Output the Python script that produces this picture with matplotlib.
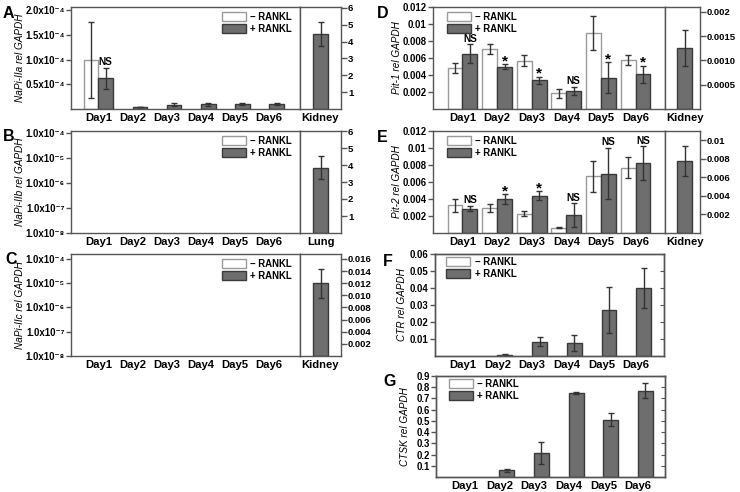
#!/usr/bin/env python3
"""
plot.py — Phosphate transporter / osteoclast marker qPCR panels (A–G).

Bars are relative expression vs GAPDH over a 6-day RANKL time course,
with a positive-control tissue (kidney / lung) on a separate right axis.
"""
import numpy as np
import matplotlib
matplotlib.use("Agg")
import matplotlib.pyplot as plt
from matplotlib.patches import Patch

plt.rcParams.update({
    "font.family": ["Liberation Sans", "DejaVu Sans"],
    "font.weight": "bold",
    "font.size": 6.9,
    "axes.linewidth": 1.0,
    "axes.edgecolor": "#555555",
})

W, H = 740, 492
GREY = "#6e6e6e"
EDGE = "#3a3a3a"
WEDGE = "#9a9a9a"
ERR = "#333333"
nan = np.nan

days = ["Day1", "Day2", "Day3", "Day4", "Day5", "Day6"]

# ── A: NaPi-IIa ──
a_minus = [1.0e-4, nan, nan, nan, nan, nan]
a_minus_err = [0.77e-4, nan, nan, nan, nan, nan]
a_plus = [0.62e-4, 0.04e-4, 0.09e-4, 0.10e-4, 0.10e-4, 0.10e-4]
a_plus_err = [0.21e-4, 0.005e-4, 0.03e-4, 0.03e-4, 0.025e-4, 0.025e-4]
a_sig = ["NS", "", "", "", "", ""]
a_kidney, a_kidney_err = 4.45, 0.7

# ── B: NaPi-IIb (nothing detected in cells) ──
b_lung, b_lung_err = 3.85, 0.7

# ── C: NaPi-IIc (nothing detected in cells) ──
c_kidney, c_kidney_err = 0.012, 0.0024

# ── D: Pit-1 ──
d_minus = [0.0048, 0.0071, 0.0057, 0.00185, 0.0089, 0.0058]
d_minus_err = [0.0006, 0.0006, 0.0006, 0.0005, 0.002, 0.0006]
d_plus = [0.0065, 0.0050, 0.0034, 0.0021, 0.0037, 0.0041]
d_plus_err = [0.0011, 0.0003, 0.0004, 0.0005, 0.0018, 0.001]
d_sig = ["NS", "*", "*", "NS", "*", "*"]
d_kidney, d_kidney_err = 0.00125, 0.00037

# ── E: Pit-2 ──
e_minus = [0.00325, 0.00294, 0.00227, 0.00063, 0.00667, 0.0077]
e_minus_err = [0.0008, 0.0005, 0.0003, 0.0001, 0.0018, 0.0012]
e_plus = [0.00286, 0.0040, 0.0044, 0.0021, 0.0070, 0.0082]
e_plus_err = [0.0003, 0.0006, 0.0005, 0.0014, 0.003, 0.002]
e_sig = ["NS", "*", "*", "NS", "NS", "NS"]
e_kidney, e_kidney_err = 0.0078, 0.0016

# ── F: CTR ──
f_plus = [nan, 0.0007, 0.0085, 0.0076, 0.027, 0.040]
f_plus_err = [nan, 0.0003, 0.0026, 0.0048, 0.0133, 0.0118]

# ── G: CTSK ──
g_plus = [nan, 0.059, 0.214, 0.748, 0.51, 0.77]
g_plus_err = [nan, 0.012, 0.1, 0.005, 0.058, 0.065]

BAR_W = 0.43
ERR_KW = dict(ecolor=ERR, elinewidth=1, capsize=2.5, capthick=1)
DAY_FS = 8.1
SUP = str.maketrans("-0123456789", "\u207b\u2070\u00b9\u00b2\u00b3\u2074\u2075\u2076\u2077\u2078\u2079")


def box(x0, y0, x1, y1):
    """Pixel box (top-left origin) -> figure fraction rect."""
    return [x0 / W, 1 - y1 / H, (x1 - x0) / W, (y1 - y0) / H]


def add_bars(ax, vals, errs, offset, white):
    x = np.arange(len(days)) + offset
    v = np.array(vals, float)
    e = np.array(errs, float)
    ok = ~np.isnan(v)
    if white:
        ax.bar(x[ok], v[ok], BAR_W, yerr=e[ok], color="white", edgecolor=WEDGE,
               linewidth=1, error_kw=ERR_KW, zorder=2)
    else:
        ax.bar(x[ok], v[ok], BAR_W, yerr=e[ok], color=GREY, edgecolor=EDGE,
               linewidth=1, error_kw=ERR_KW, zorder=2)


def add_sig(ax, plus, plus_err, marks):
    for i, m in enumerate(marks):
        if not m:
            continue
        top = plus[i] + plus_err[i]
        if m == "*":
            ax.annotate(m, (i + BAR_W / 2, top), xytext=(0, -3), textcoords="offset points",
                        ha="center", va="bottom", fontsize=11)
        else:
            ax.annotate(m, (i + BAR_W / 2, top), xytext=(0, 0.5), textcoords="offset points",
                        ha="center", va="bottom", fontsize=7.2)


def main_axes(fig, rect, xlim, ylabel, label_dx):
    ax = fig.add_axes(rect)
    ax.set_xlim(*xlim)
    ax.set_xticks(range(len(days)))
    ax.set_xticklabels(days, fontsize=DAY_FS)
    ax.tick_params(axis="x", length=0, pad=3)
    ax.tick_params(axis="y", direction="out", length=3.5, width=1, color="#555555", pad=1)
    ax.set_ylabel(ylabel, style="italic", fontsize=7.2)
    ax.yaxis.set_label_coords(-label_dx / (rect[2] * W), 0.5)
    return ax


def ref_axes(fig, rect, val, err, name, ylim, ticks, labels, xlim):
    axk = fig.add_axes(rect)
    axk.bar(0, val, BAR_W, yerr=err, color=GREY, edgecolor=EDGE, linewidth=1,
            error_kw=ERR_KW, zorder=2)
    axk.set_xlim(*xlim)
    axk.set_ylim(*ylim)
    axk.set_xticks([0])
    axk.set_xticklabels([name], fontsize=DAY_FS)
    axk.tick_params(axis="x", length=0, pad=3)
    axk.yaxis.tick_right()
    axk.set_yticks(ticks)
    axk.set_yticklabels(labels, fontsize=6.8)
    axk.tick_params(axis="y", direction="out", length=4, width=1, color="#555555", pad=1)
    return axk


def legend(ax, loc, anchor):
    handles = [Patch(facecolor="white", edgecolor=WEDGE, linewidth=1),
               Patch(facecolor=GREY, edgecolor=EDGE, linewidth=1)]
    ax.legend(handles, ["\u2212 RANKL", "+ RANKL"], loc=loc, bbox_to_anchor=anchor,
              frameon=False, fontsize=6.9, handlelength=2.5, handleheight=1.05,
              labelspacing=0.2, handletextpad=0.45, borderpad=0, borderaxespad=0)


def sci_labels(vals, exp):
    return [f"{v:.1f}x10{str(exp).translate(SUP)}" for v in vals]


def main():
    fig = plt.figure(figsize=(W / 100, H / 100), dpi=100)

    xl_left = (-0.8, 5.9)
    xl_right = (-0.85, 5.85)
    kid_a = (-0.575, 0.575)
    kid_d = (-0.57, 0.45)

    # ── A ──
    ax = main_axes(fig, box(71, 7, 300, 109), xl_left, "NaPi-IIa rel GAPDH", 46)
    add_bars(ax, a_minus, a_minus_err, -BAR_W / 2, True)
    add_bars(ax, a_plus, a_plus_err, BAR_W / 2, False)
    add_sig(ax, a_plus, a_plus_err, a_sig)
    ax.set_ylim(0, 2.07e-4)
    ax.set_yticks([0.5e-4, 1.0e-4, 1.5e-4, 2.0e-4])
    ax.set_yticklabels(sci_labels([0.5, 1.0, 1.5, 2.0], -4))
    legend(ax, "upper right", (0.965, 0.95))
    ref_axes(fig, box(300, 7, 341, 109), a_kidney, a_kidney_err, "Kidney",
             (0, 6.05), [1, 2, 3, 4, 5, 6], ["1", "2", "3", "4", "5", "6"], kid_a)

    log_ticks = [1e-8, 1e-7, 1e-6, 1e-5, 1e-4]
    log_labels = [sci_labels([1.0], e)[0] for e in (-8, -7, -6, -5, -4)]

    # ── B ──
    ax = main_axes(fig, box(71, 131, 300, 233), xl_left, "NaPi-IIb rel GAPDH", 46)
    ax.set_yscale("log")
    ax.set_ylim(1e-8, 1.2e-4)
    ax.set_yticks(log_ticks)
    ax.set_yticklabels(log_labels)
    ax.minorticks_off()
    legend(ax, "upper right", (0.965, 0.95))
    ref_axes(fig, box(300, 131, 341, 233), b_lung, b_lung_err, "Lung",
             (0, 6.0), [1, 2, 3, 4, 5, 6], ["1", "2", "3", "4", "5", "6"], kid_a)

    # ── C ──
    ax = main_axes(fig, box(71, 254, 300, 356), xl_left, "NaPi-IIc rel GAPDH", 46)
    ax.set_yscale("log")
    ax.set_ylim(1e-8, 1.6e-4)
    ax.set_yticks(log_ticks)
    ax.set_yticklabels(log_labels)
    ax.minorticks_off()
    legend(ax, "upper right", (0.965, 0.95))
    c_ticks = [0.002, 0.004, 0.006, 0.008, 0.010, 0.012, 0.014, 0.016]
    ref_axes(fig, box(300, 254, 341, 356), c_kidney, c_kidney_err, "Kidney",
             (0, 0.0168), c_ticks, [f"{t:.3f}" for t in c_ticks], kid_a)

    de_ticks = [0.002, 0.004, 0.006, 0.008, 0.010, 0.012]
    de_labels = ["0.002", "0.004", "0.006", "0.008", "0.01", "0.012"]

    # ── D ──
    ax = main_axes(fig, box(433, 7, 665, 109), xl_right, "Pit-1 rel GAPDH", 31)
    add_bars(ax, d_minus, d_minus_err, -BAR_W / 2, True)
    add_bars(ax, d_plus, d_plus_err, BAR_W / 2, False)
    add_sig(ax, d_plus, d_plus_err, d_sig)
    ax.set_ylim(0, 0.012)
    ax.set_yticks(de_ticks)
    ax.set_yticklabels(de_labels)
    legend(ax, "upper left", (0.06, 0.95))
    ref_axes(fig, box(665, 7, 700, 109), d_kidney, d_kidney_err, "Kidney",
             (0, 0.0021), [0.0005, 0.0010, 0.0015, 0.002],
             ["0.0005", "0.0010", "0.0015", "0.002"], kid_d)

    # ── E ──
    ax = main_axes(fig, box(433, 131, 665, 233), xl_right, "Pit-2 rel GAPDH", 31)
    add_bars(ax, e_minus, e_minus_err, -BAR_W / 2, True)
    add_bars(ax, e_plus, e_plus_err, BAR_W / 2, False)
    add_sig(ax, e_plus, e_plus_err, e_sig)
    ax.set_ylim(0, 0.012)
    ax.set_yticks(de_ticks)
    ax.set_yticklabels(de_labels)
    legend(ax, "upper left", (0.06, 0.95))
    ref_axes(fig, box(665, 131, 700, 233), e_kidney, e_kidney_err, "Kidney",
             (0, 0.011), [0.002, 0.004, 0.006, 0.008, 0.01],
             ["0.002", "0.004", "0.006", "0.008", "0.01"], kid_d)

    # ── F ──
    ax = main_axes(fig, box(435, 254, 664, 356), (-0.8, 5.8), "CTR rel GAPDH", 28)
    add_bars(ax, f_plus, f_plus_err, BAR_W / 2, False)
    ax.set_ylim(0, 0.06)
    ax.set_yticks([0.01, 0.02, 0.03, 0.04, 0.05, 0.06])
    ax.set_yticklabels(["0.01", "0.02", "0.03", "0.04", "0.05", "0.06"])
    legend(ax, "upper left", (0.05, 0.97))
    tw = ax.twinx()
    tw.set_ylim(ax.get_ylim())
    tw.set_yticks(ax.get_yticks())
    tw.tick_params(axis="y", direction="in", length=3, labelright=False, color="#555555")

    # ── G ──
    ax = main_axes(fig, box(436, 376, 665, 477), (-0.83, 5.78), "CTSK rel GAPDH", 26)
    add_bars(ax, g_plus, g_plus_err, BAR_W / 2, False)
    ax.set_ylim(0, 0.9)
    g_ticks = [0.1, 0.2, 0.3, 0.4, 0.5, 0.6, 0.7, 0.8, 0.9]
    ax.set_yticks(g_ticks)
    ax.set_yticklabels([f"{t:.1f}" for t in g_ticks])
    legend(ax, "upper left", (0.055, 0.97))
    tw = ax.twinx()
    tw.set_ylim(ax.get_ylim())
    tw.set_yticks(g_ticks)
    tw.tick_params(axis="y", direction="in", length=3, labelright=False, color="#555555")

    # panel letters
    for letter, px, py in [("A", 3, 6), ("B", 3, 129), ("C", 5, 252),
                           ("D", 377, 6), ("E", 377, 130), ("F", 383, 254), ("G", 383, 374)]:
        fig.text(px / W, 1 - py / H, letter, fontsize=11.5, fontweight="bold",
                 ha="left", va="top")

    fig.savefig("out.png", dpi=100)
    plt.close(fig)


if __name__ == "__main__":
    main()
